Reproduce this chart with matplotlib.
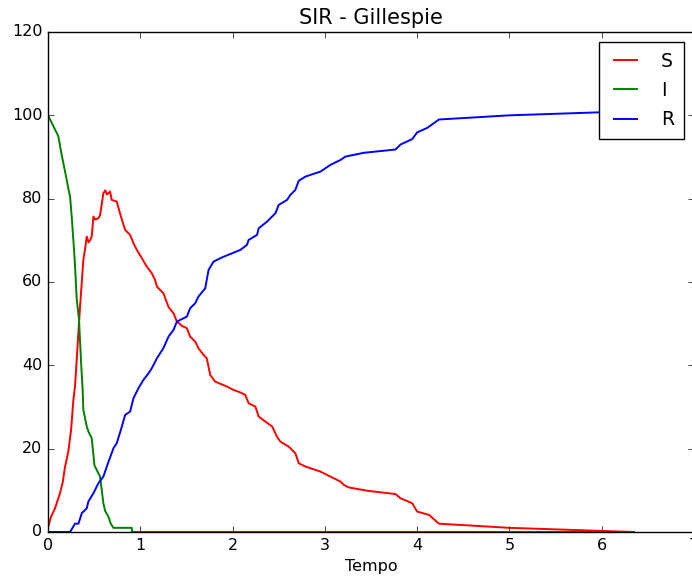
import matplotlib
matplotlib.use("Agg")
import matplotlib.pyplot as plt

plt.style.use("classic")

# ── DATA ──
# S (red)
s_t = [0.0, 0.03, 0.076, 0.13, 0.16, 0.185, 0.22, 0.25, 0.275, 0.293,
       0.329, 0.347, 0.383, 0.40, 0.42, 0.44, 0.455, 0.474, 0.492, 0.51,
       0.546, 0.564, 0.60, 0.62, 0.64, 0.673, 0.69, 0.745, 0.78, 0.80,
       0.836, 0.89, 0.926, 0.963, 1.017, 1.07, 1.125, 1.16, 1.18, 1.25,
       1.306, 1.36, 1.397, 1.45, 1.505, 1.54, 1.595, 1.63, 1.686, 1.72,
       1.758, 1.81, 1.94, 2.01, 2.084, 2.138, 2.174, 2.247, 2.283, 2.355,
       2.43, 2.48, 2.518, 2.608, 2.68, 2.717, 2.79, 2.952, 3.06, 3.17,
       3.205, 3.26, 3.46, 3.766, 3.82, 3.947, 4.0, 4.13, 4.236, 5.0,
       6.35]
s_v = [1, 3.5, 5.7, 9.3, 12, 15.7, 19.3, 24.5, 31.7, 35,
       47.7, 54, 65.3, 67.7, 70.9, 69.5, 70, 70.9, 75.7, 75,
       75.3, 76, 81.3, 82, 81, 81.7, 79.7, 79.3, 76.5, 75,
       72.5, 71.3, 69.3, 67.7, 65.7, 63.7, 62.1, 60.5, 58.9, 57.3,
       54, 52.5, 50.5, 49.5, 48.9, 46.9, 45.7, 44.1, 42.5, 41.7,
       37.7, 36.1, 34.9, 34.1, 33.5, 32.9, 30.9, 30.1, 27.7, 26.5,
       25.3, 22.9, 21.7, 20.5, 18.9, 16.5, 15.7, 14.5, 13.3, 12.1,
       11.3, 10.7, 9.9, 9.1, 8.1, 6.9, 4.9, 4.1, 2, 1,
       0]

# I (green)
i_t = [0.0, 0.112, 0.148, 0.185, 0.22, 0.239, 0.257, 0.275, 0.29, 0.311,
       0.336, 0.36, 0.376, 0.383, 0.42, 0.44, 0.474, 0.49, 0.503, 0.564,
       0.60, 0.62, 0.655, 0.68, 0.709, 0.908, 0.91, 6.35]
i_v = [100, 95, 90.5, 86.5, 82.5, 80.5, 75.7, 70, 65, 56,
       51, 40, 34, 29.3, 25.3, 24, 22.5, 19, 16, 13.3,
       6.9, 5, 3.7, 2, 1, 1, 0, 0]

# R (blue)
r_t = [0.0, 0.239, 0.293, 0.33, 0.366, 0.42, 0.437, 0.492, 0.546, 0.60,
       0.637, 0.709, 0.745, 0.80, 0.836, 0.89, 0.926, 0.98, 1.034, 1.089,
       1.125, 1.18, 1.25, 1.306, 1.36, 1.397, 1.505, 1.54, 1.595, 1.63,
       1.704, 1.72, 1.74, 1.794, 1.885, 2.084, 2.156, 2.174, 2.265, 2.283,
       2.374, 2.464, 2.50, 2.59, 2.626, 2.68, 2.717, 2.79, 2.952, 3.06,
       3.17, 3.223, 3.42, 3.766, 3.82, 3.947, 4.0, 4.11, 4.236, 5.0,
       6.35]
r_v = [0, 0, 2, 2, 4.5, 5.7, 7.3, 9.3, 11.7, 13.3,
       15.7, 20.1, 21.3, 25.3, 28.1, 28.9, 32.1, 34.5, 36.5, 38.1,
       39.3, 41.7, 44.1, 46.9, 48.5, 50.5, 51.7, 53.7, 54.9, 56.5,
       58.5, 60.5, 62.9, 64.9, 65.9, 67.7, 68.9, 70.1, 71.3, 72.9,
       74.5, 76.5, 78.5, 79.7, 80.9, 82.1, 84.3, 85.3, 86.5, 88.1,
       89.3, 90.1, 91.0, 91.8, 93, 94.3, 95.9, 97, 99, 100,
       101]

fig = plt.figure(figsize=(6.92, 5.78), dpi=100, facecolor="white")
ax = fig.add_axes([48 / 692, 46 / 578, (694 - 48) / 692, 500 / 578])

ax.plot(s_t, s_v, "r", lw=1.4, label="S")
ax.plot(i_t, i_v, "g", lw=1.4, label="I")
ax.plot(r_t, r_v, "b", lw=1.4, label="R")

ax.set_xlim(0, 7)
ax.set_ylim(0, 120)
ax.tick_params(labelsize=11.5)
ax.set_xlabel("Tempo", fontsize=11.5)
ax.set_title("SIR - Gillespie", fontsize=15, pad=6)

ax.legend(loc="upper right", fontsize=13.5, handlelength=1.8,
          handletextpad=1.0, borderpad=0.5, labelspacing=0.55,
          borderaxespad=0.55)

fig.savefig("out.png", dpi=100, facecolor="white")
